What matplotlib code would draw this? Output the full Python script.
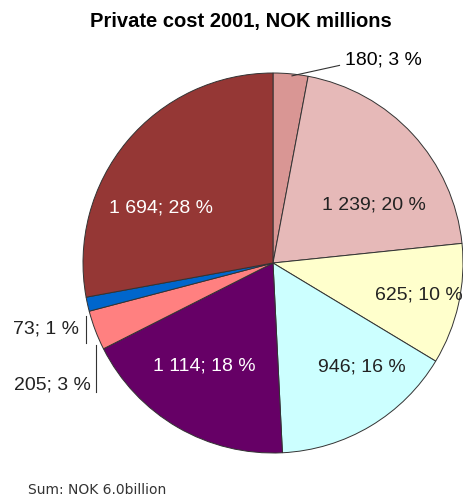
import numpy as np
import matplotlib.pyplot as plt

plt.rcParams['font.family'] = ['Liberation Sans', 'DejaVu Sans']

values = [180, 1239, 625, 946, 1114, 205, 73, 1694]
pct_labels = ['180; 3 %', '1 239; 20 %', '625; 10 %', '946; 16 %',
              '1 114; 18 %', '205; 3 %', '73; 1 %', '1 694; 28 %']
colors = ['#D99694', '#E6B9B8', '#FFFFCC', '#CCFFFF',
          '#660066', '#FF8080', '#0066CC', '#953735']
text_colors = ['black', '#222222', '#222222', '#222222',
               'white', '#222222', '#222222', 'white']

# label placement (data coords of the unit pie), leader lines for the small slices
label_pos = [(0.38, 1.07), (0.53, 0.305), (0.77, -0.17), (0.47, -0.55),
             (-0.36, -0.54), (-0.96, -0.64), (-1.02, -0.35), (-0.59, 0.29)]
label_ha = ['left', 'center', 'center', 'center', 'center', 'right', 'right', 'center']
leaders = {0: [(0.10, 0.985), (0.35, 1.04)],
           5: [(-0.93, -0.43), (-0.93, -0.68)],
           6: [(-0.985, -0.28), (-0.985, -0.42)]}

fig = plt.figure(figsize=(4.64, 5.0), dpi=100)
ax = fig.add_axes([83 / 464, 47 / 500, 380 / 464, 380 / 500])

ax.pie(values, colors=colors, startangle=90, counterclock=False,
       wedgeprops=dict(edgecolor='#333333', linewidth=0.7))
ax.set_xlim(-1, 1)
ax.set_ylim(-1, 1)
ax.set_aspect('equal')

for i, lab in enumerate(pct_labels):
    x, y = label_pos[i]
    ax.text(x, y, lab, ha=label_ha[i], va='center', fontsize=14,
            color=text_colors[i], clip_on=False)

for i, pts in leaders.items():
    xs, ys = zip(*pts)
    ax.plot(xs, ys, color='#333333', linewidth=0.8, clip_on=False)

fig.text(241 / 464, 1 - 22 / 500, 'Private cost 2001, NOK millions',
         ha='center', va='center', fontsize=14.5, fontweight='bold')
fig.text(28 / 464, 1 - 490 / 500, 'Sum: NOK 6.0billion',
         ha='left', va='center', fontsize=10, color='#333333',
         family=['DejaVu Sans'])

fig.savefig('out.png', dpi=100)
